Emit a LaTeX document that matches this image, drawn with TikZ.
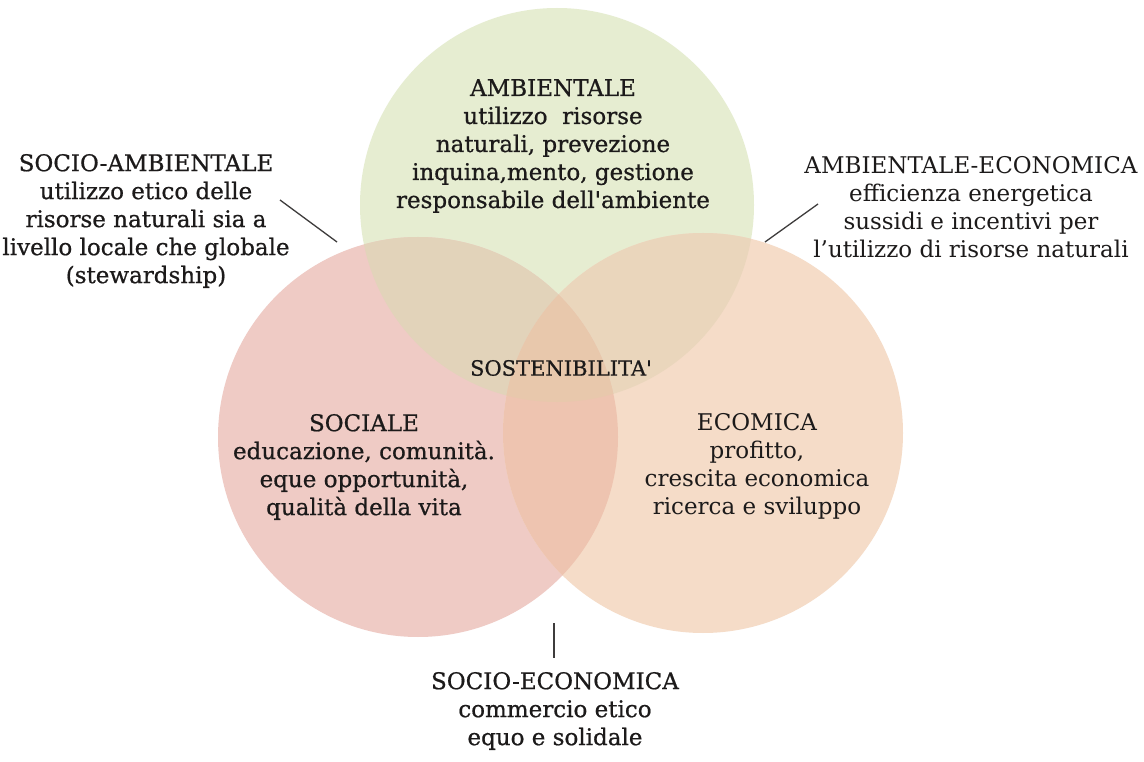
\documentclass[tikz,border=0pt]{standalone}
\usepackage{fontspec}
\setmainfont{DejaVu Serif}
\newfontfamily\heavy[FakeBold=0.7]{DejaVu Serif}
\definecolor{ink}{HTML}{1C1A1A}
\definecolor{cG}{HTML}{E6EDD1}
\definecolor{cP}{HTML}{EFCBC5}
\definecolor{cO}{HTML}{F5DCC8}
\definecolor{cGP}{HTML}{E2D3BA}
\definecolor{cGO}{HTML}{EAD6BC}
\definecolor{cPO}{HTML}{EEC4B0}
\definecolor{cGPO}{HTML}{E8C8AC}
\begin{document}
\begin{tikzpicture}[x=1pt,y=-1pt,
  txt/.style={align=center, font=\fontsize{23}{28}\selectfont, text=ink, inner sep=0pt},
  btxt/.style={txt, font=\heavy\fontsize{23}{28}\selectfont},
  small/.style={txt, font=\heavy\fontsize{21}{26}\selectfont},
  lead/.style={draw=ink!85, line width=1.3pt}]
\useasboundingbox (0,0) rectangle (1144,762);
\fill[white] (0,0) rectangle (1144,762);
\coordinate (cg) at (557,205);
\coordinate (cp) at (418,437);
\coordinate (co) at (703,433);
\def\rg{197pt}\def\rp{200pt}\def\ro{200pt}
% base circles
\fill[cG] (cg) circle[radius=\rg];
\fill[cP] (cp) circle[radius=\rp];
\fill[cO] (co) circle[radius=\ro];
% overlaps
\begin{scope}
  \clip (cg) circle[radius=\rg];
  \fill[cGP] (cp) circle[radius=\rp];
  \fill[cGO] (co) circle[radius=\ro];
\end{scope}
\begin{scope}
  \clip (cp) circle[radius=\rp];
  \fill[cPO] (co) circle[radius=\ro];
\end{scope}
\begin{scope}
  \clip (cg) circle[radius=\rg];
  \clip (cp) circle[radius=\rp];
  \fill[cGPO] (co) circle[radius=\ro];
\end{scope}
% texts
\node[btxt] (amb) at (553,146) {AMBIENTALE\\utilizzo~ risorse\\naturali, prevezione\\inquina,mento, gestione\\responsabile dell'ambiente};
\node[btxt] (soam) at (146,221) {SOCIO-AMBIENTALE\\utilizzo etico delle\\risorse naturali sia a\\livello locale che globale\\(stewardship)};
\node[txt] (amec) at (971,207) {AMBIENTALE-ECONOMICA\\efficienza energetica\\sussidi e incentivi per\\l’utilizzo di risorse naturali};
\node[small] (sost) at (561,368) {SOSTENIBILITA'};
\node[btxt] (soc) at (364,467) {SOCIALE\\educazione, comunità.\\eque opportunità,\\qualità della vita};
\node[txt] (eco) at (757,466) {ECOMICA\\profitto,\\crescita economica\\ricerca e sviluppo};
\node[btxt] (soec) at (555,711) {SOCIO-ECONOMICA\\commercio etico\\equo e solidale};
% leaders
\coordinate (la1) at (280,200);
\coordinate (la2) at (337,242);
\coordinate (lb1) at (818,204);
\coordinate (lb2) at (765,242);
\coordinate (lc1) at (554,623);
\coordinate (lc2) at (554,658);
\draw[lead] (la1) -- (la2);
\draw[lead] (lb1) -- (lb2);
\draw[lead] (lc1) -- (lc2);
\end{tikzpicture}
\end{document}
